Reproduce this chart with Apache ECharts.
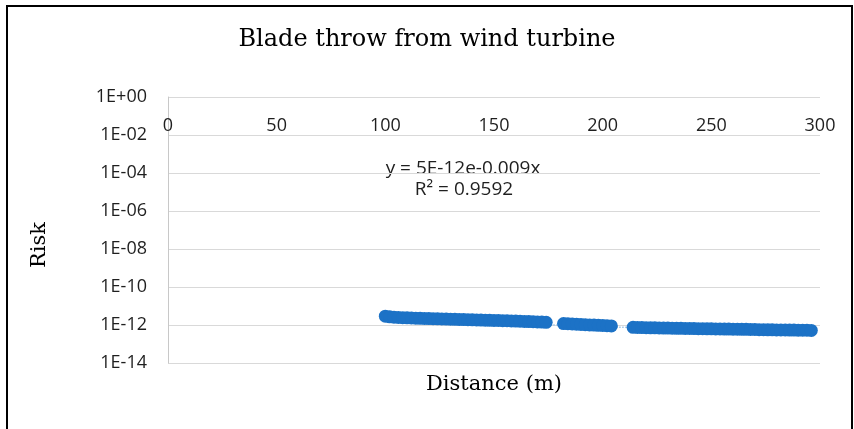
<!DOCTYPE html>
<html>
<head>
<meta charset="utf-8">
<script src="https://cdn.jsdelivr.net/npm/echarts@6/dist/echarts.min.js"></script>
<style>
html,body{margin:0;padding:0;background:#fff;}
#chart{width:854px;height:429px;}
</style>
</head>
<body>
<div id="chart"></div>
<script>
// ---- data ----
var titleText = 'Blade throw from wind turbine';
var xAxisTitle = 'Distance (m)';
var yAxisTitle = 'Risk';
var trendEquation = 'y = 5E-12e-0.009x';
var trendR2 = 'R\u00B2 = 0.9592';

var xTicks = [0, 50, 100, 150, 200, 250, 300];
var yTickLabels = {'-14':'1E-14','-12':'1E-12','-10':'1E-10','-8':'1E-08','-6':'1E-06','-4':'1E-04','-2':'1E-02','0':'1E+00'};

var distance1 = [100,102,104,106,108,110,112,114,116,118,120,122,124,126,128,130,132,134,136,138,
                 140,142,144,146,148,150,152,154,156,158,160,162,164,166,168,170,172,174];
var risk1 = [2.90e-12,2.70e-12,2.58e-12,2.50e-12,2.44e-12,2.39e-12,2.34e-12,2.29e-12,2.25e-12,2.21e-12,
             2.18e-12,2.14e-12,2.11e-12,2.08e-12,2.05e-12,2.02e-12,1.99e-12,1.96e-12,1.93e-12,1.90e-12,
             1.87e-12,1.84e-12,1.82e-12,1.79e-12,1.77e-12,1.74e-12,1.72e-12,1.69e-12,1.67e-12,1.64e-12,
             1.60e-12,1.58e-12,1.54e-12,1.52e-12,1.48e-12,1.45e-12,1.42e-12,1.38e-12];

var distance2 = [182,184,186,188,190,192,194,196,198,200,202,204];
var risk2 = [1.19e-12,1.16e-12,1.13e-12,1.10e-12,1.07e-12,1.04e-12,1.01e-12,0.99e-12,0.96e-12,0.94e-12,0.92e-12,0.89e-12];

var distance3 = [214,216,218,220,222,224,226,228,230,232,234,236,238,240,242,244,246,248,250,252,
                 254,256,258,260,262,264,266,268,270,272,274,276,278,280,282,284,286,288,290,292,294,296];
var risk3 = [0.75e-12,0.74e-12,0.73e-12,0.72e-12,0.71e-12,0.71e-12,0.70e-12,0.69e-12,0.69e-12,0.68e-12,
             0.67e-12,0.67e-12,0.66e-12,0.66e-12,0.65e-12,0.64e-12,0.64e-12,0.63e-12,0.63e-12,0.62e-12,
             0.62e-12,0.61e-12,0.61e-12,0.60e-12,0.60e-12,0.59e-12,0.59e-12,0.58e-12,0.58e-12,0.57e-12,
             0.57e-12,0.56e-12,0.56e-12,0.55e-12,0.55e-12,0.55e-12,0.54e-12,0.54e-12,0.53e-12,0.53e-12,
             0.53e-12,0.52e-12];

// exponential trendline end points (y = 5E-12 e^-0.009x at x = 100 and 296)
var trendDistance = [100, 296];
var trendRisk = [2.03e-12, 3.48e-13];

// ---- build ----
function pairs(xs, ys){ var out=[]; for(var i=0;i<xs.length;i++) out.push([xs[i], ys[i]]); return out; }
var points = pairs(distance1, risk1).concat(pairs(distance2, risk2), pairs(distance3, risk3));

var chart = echarts.init(document.getElementById('chart'), null, {renderer:'canvas'});
var labelFont = '"Open Sans", "Noto Sans", sans-serif';
var serif = '"DejaVu Serif", "Liberation Serif", serif';

chart.setOption({
  animation: false,
  backgroundColor: '#ffffff',
  grid: {left: 168, right: 34, top: 97, bottom: 66, containLabel: false},
  title: {
    text: titleText, left: 'center', top: 23,
    textStyle: {fontFamily: serif, fontSize: 24, fontWeight: 'normal', color: '#000'}
  },
  xAxis: {
    type: 'value', position: 'top', min: 0, max: 300, interval: 50,
    axisLine: {show: false}, axisTick: {show: false}, splitLine: {show: false},
    axisLabel: {inside: true, margin: 20, color: '#1f1f1f', fontFamily: labelFont, fontSize: 18,
      formatter: function(v){ return xTicks.indexOf(v) >= 0 ? String(v) : ''; }}
  },
  yAxis: {
    type: 'log', logBase: 10, min: 1e-14, max: 1, interval: 2,
    axisLine: {show: true, lineStyle: {color: '#c8c8c8', width: 1}},
    axisTick: {show: false},
    splitLine: {show: true, lineStyle: {color: '#d9d9d9', width: 1}},
    axisLabel: {margin: 21, color: '#1f1f1f', fontFamily: labelFont, fontSize: 18,
      formatter: function(v){ var e = Math.round(Math.log10(v)); return yTickLabels[String(e)] || ''; }}
  },
  series: [
    {
      type: 'line', data: pairs(trendDistance, trendRisk), symbol: 'none', z: 1,
      lineStyle: {color: '#9dc3e6', width: 1.5, type: 'dotted'}, silent: true
    },
    {
      type: 'scatter', data: points, symbol: 'circle', symbolSize: 13, z: 2,
      itemStyle: {color: '#1c72c6', opacity: 1}
    }
  ],
  graphic: [
    {type: 'rect', shape: {x: 7, y: 6, width: 845, height: 440}, style: {fill: 'none', stroke: '#000', lineWidth: 2}, silent: true},
    {type: 'text', x: 40, y: 245, rotation: Math.PI/2, style: {text: yAxisTitle, font: '21px ' + serif, fill: '#000', textAlign: 'center', textVerticalAlign: 'middle'}},
    {type: 'text', x: 494, y: 385, style: {text: xAxisTitle, font: '21px ' + serif, fill: '#000', textAlign: 'center', textVerticalAlign: 'middle'}},
    {type: 'text', x: 463, y: 169, style: {text: trendEquation, font: '19px ' + labelFont, fill: '#1f1f1f', textAlign: 'center', textVerticalAlign: 'middle'}},
    {type: 'text', x: 464, y: 190, style: {text: trendR2, font: '19px ' + labelFont, fill: '#1f1f1f', textAlign: 'center', textVerticalAlign: 'middle'}}
  ]
});
</script>
</body>
</html>
